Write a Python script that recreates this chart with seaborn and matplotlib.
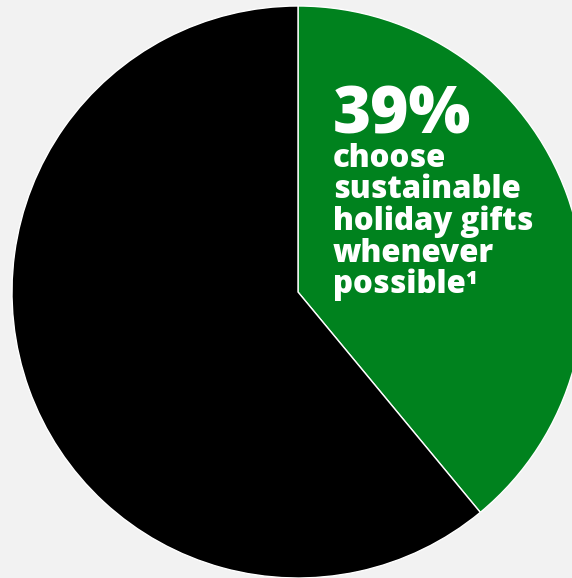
import matplotlib
matplotlib.use("Agg")
import matplotlib.pyplot as plt
import seaborn as sns

# Share of shoppers choosing sustainable gifts
labels = ["Sustainable gifts whenever possible", "Other"]
shares = [39, 61]
colors = ["#00821e", "#000000"]
headline = "39%"
caption_lines = ["choose", "sustainable", "holiday gifts", "whenever", "possible\u00b9"]

sns.set_theme(style="white")
plt.rcParams["font.family"] = ["Open Sans", "DejaVu Sans"]

bg = "#f2f2f2"
fig = plt.figure(figsize=(5.72, 5.78), dpi=100, facecolor=bg)
ax = fig.add_axes([0, 0, 1, 1])
ax.set_facecolor(bg)

ax.pie(shares, colors=colors, startangle=90, counterclock=False,
       radius=1.0, center=(0, 0),
       wedgeprops=dict(edgecolor="white", linewidth=1.0))

# pie centre at (298, 292) px, radius 286 px; the disc runs off the right edge
r = 286.0
ax.set_xlim(-298 / r, (572 - 298) / r)
ax.set_ylim(-(578 - 292) / r, 292 / r)
ax.set_aspect("auto")
ax.axis("off")

x0 = 333 / 572
fig.text(x0, 1 - 134 / 578, headline, color="white", fontsize=47,
         fontweight=900, ha="left", va="baseline")
for i, line in enumerate(caption_lines):
    fig.text(x0, 1 - (167 + i * 31.5) / 578, line, color="white",
             fontsize=22.5, fontweight=900, ha="left", va="baseline")

fig.savefig("out.png", dpi=100, facecolor=bg)
